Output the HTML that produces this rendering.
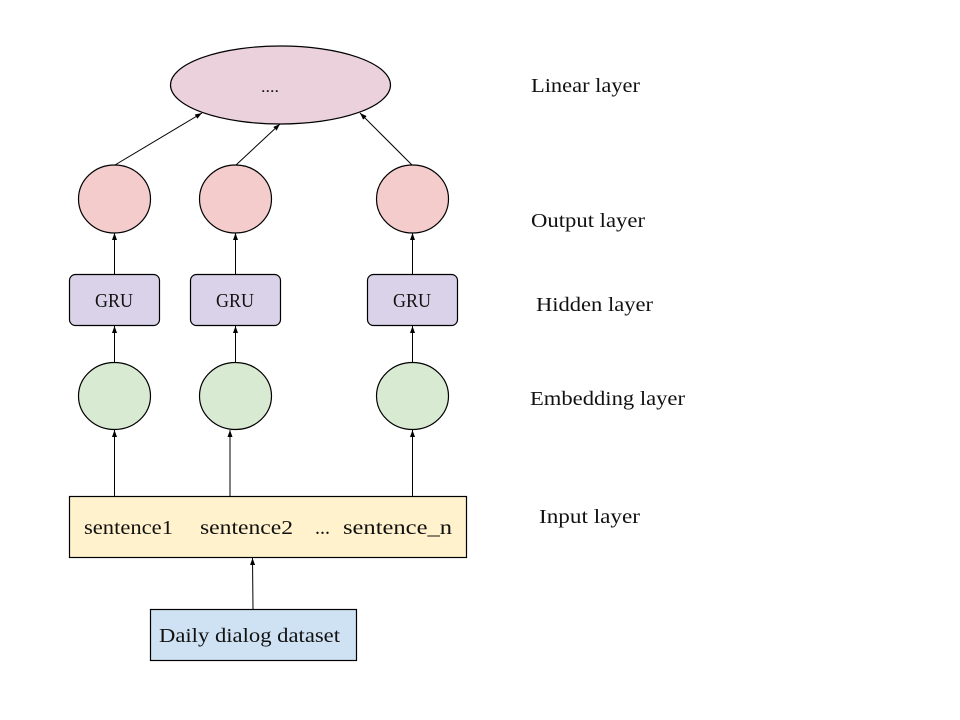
<!DOCTYPE html>
<html><head><meta charset="utf-8"><style>
html,body{margin:0;padding:0;background:#fff;width:960px;height:720px;overflow:hidden}
text{font-family:"Liberation Serif",serif;fill:#111}
</style></head><body>
<svg width="960" height="720" viewBox="0 0 960 720" xmlns="http://www.w3.org/2000/svg">
<defs><marker id="a" markerWidth="8" markerHeight="8" refX="7" refY="4" orient="auto" markerUnits="userSpaceOnUse"><path d="M0,1.5 L7,4 L0,6.5 Z" fill="#000"/></marker></defs>
<g stroke="#000" stroke-width="1.2">
<ellipse cx="280.5" cy="85" rx="110" ry="39" fill="#ead1dc"/>
<g fill="#f4cccc"><ellipse cx="114.5" cy="199" rx="36" ry="34"/><ellipse cx="235.5" cy="199" rx="36" ry="34"/><ellipse cx="412.5" cy="199" rx="36" ry="34"/></g>
<g fill="#d9d2e9"><rect x="69.5" y="274.5" width="90" height="51" rx="6"/><rect x="190.5" y="274.5" width="90" height="51" rx="6"/><rect x="367.5" y="274.5" width="90" height="51" rx="6"/></g>
<g fill="#d9ead3"><ellipse cx="114.5" cy="396" rx="36" ry="33.5"/><ellipse cx="235.5" cy="396" rx="36" ry="33.5"/><ellipse cx="412.5" cy="396" rx="36" ry="33.5"/></g>
<rect x="69.5" y="496.5" width="397" height="61" fill="#fff2cc"/>
<rect x="150.5" y="609.5" width="206" height="51" fill="#cfe2f3"/>
<g marker-end="url(#a)" fill="none" stroke-width="1">
<line x1="115" y1="165" x2="202" y2="113"/>
<line x1="236" y1="165" x2="280" y2="124"/>
<line x1="412" y1="165" x2="360" y2="113"/>
<line x1="114.5" y1="274" x2="114.5" y2="233"/>
<line x1="235.5" y1="274" x2="235.5" y2="233"/>
<line x1="412.5" y1="274" x2="412.5" y2="233"/>
<line x1="114.5" y1="362" x2="114.5" y2="326"/>
<line x1="235.5" y1="362" x2="235.5" y2="326"/>
<line x1="412.5" y1="362" x2="412.5" y2="326"/>
<line x1="114.5" y1="496" x2="114.5" y2="430"/>
<line x1="230" y1="496" x2="230" y2="430"/>
<line x1="412.5" y1="496" x2="412.5" y2="430"/>
<line x1="253" y1="609" x2="252.5" y2="558"/>
</g></g>
<g font-size="20" lengthAdjust="spacingAndGlyphs">
<text x="261" y="92" font-size="16" textLength="18" lengthAdjust="spacingAndGlyphs">....</text>
<text x="95" y="307" textLength="38" lengthAdjust="spacingAndGlyphs">GRU</text>
<text x="216" y="307" textLength="38" lengthAdjust="spacingAndGlyphs">GRU</text>
<text x="393" y="307" textLength="38" lengthAdjust="spacingAndGlyphs">GRU</text>
<text x="84" y="534" textLength="89" lengthAdjust="spacingAndGlyphs">sentence1</text>
<text x="200" y="534" textLength="93" lengthAdjust="spacingAndGlyphs">sentence2</text>
<text x="315" y="534" textLength="15" lengthAdjust="spacingAndGlyphs">...</text>
<text x="343" y="534" textLength="109" lengthAdjust="spacingAndGlyphs">sentence_n</text>
<text x="159" y="642" textLength="181" lengthAdjust="spacingAndGlyphs">Daily dialog dataset</text>
<text x="531" y="92" textLength="109" lengthAdjust="spacingAndGlyphs">Linear layer</text>
<text x="531" y="227" textLength="114" lengthAdjust="spacingAndGlyphs">Output layer</text>
<text x="536" y="311" textLength="117" lengthAdjust="spacingAndGlyphs">Hidden layer</text>
<text x="530" y="405" textLength="155" lengthAdjust="spacingAndGlyphs">Embedding layer</text>
<text x="539" y="523" textLength="101" lengthAdjust="spacingAndGlyphs">Input layer</text>
</g>
</svg>
</body></html>
